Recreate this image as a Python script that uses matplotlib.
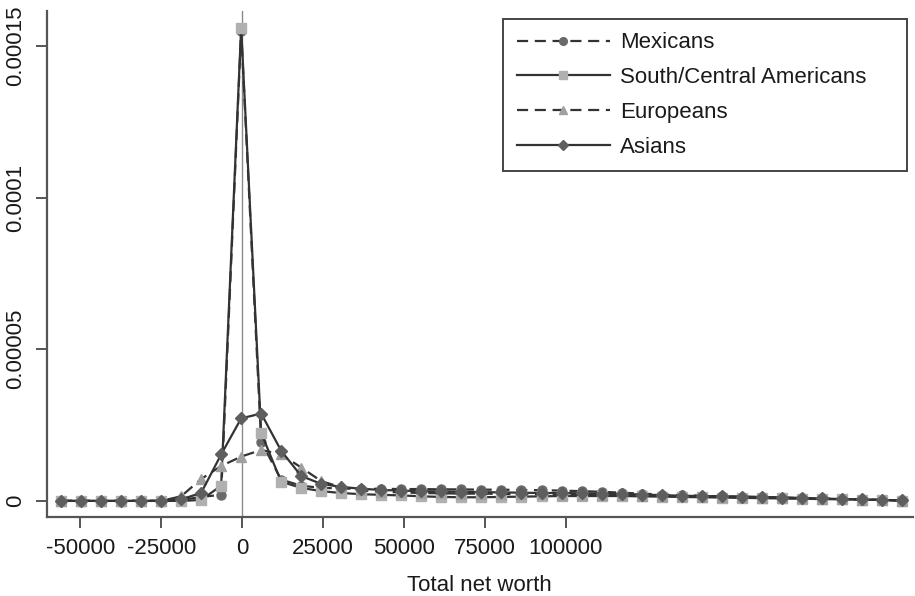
import matplotlib
matplotlib.use("Agg")
import matplotlib.pyplot as plt

plt.rcParams['font.family'] = ['Liberation Sans', 'DejaVu Sans']

# evaluation points of the density (total net worth)
net_worth = [-56000, -49810, -43619, -37429, -31238, -25048, -18857, -12667,
             -6476, -286, 5905, 12095, 18286, 24476, 30667, 36857, 43048,
             49238, 55429, 61619, 67810, 74000, 80190, 86381, 92571, 98762,
             104952, 111143, 117333, 123524, 129714, 135905, 142095, 148286,
             154476, 160667, 166857, 173048, 179238, 185429, 191619, 197810,
             204000]

# density values (x 1e-6)
mexicans = [0, 0, 0, 0, 0, 0, 0.3, 1.3, 2.0, 155, 19.5, 7.0, 5.0, 4.3, 4.1,
            4.0, 4.0, 3.9, 3.9, 3.8, 3.8, 3.7, 3.7, 3.6, 3.5, 3.4, 3.2, 3.0,
            2.7, 2.4, 2.1, 1.9, 1.7, 1.5, 1.4, 1.2, 1.1, 0.9, 0.8, 0.6, 0.5,
            0.3, 0.2]
south_central = [0, 0, 0, 0, 0, 0, 0, 0.3, 5.0, 156, 22.4, 6.3, 4.3, 3.2, 2.6,
                 2.2, 2.0, 1.8, 1.5, 1.3, 1.2, 1.2, 1.3, 1.4, 1.5, 1.6, 1.6,
                 1.6, 1.6, 1.5, 1.4, 1.3, 1.2, 1.1, 1.0, 0.9, 0.8, 0.7, 0.6,
                 0.5, 0.4, 0.3, 0.1]
europeans = [0, 0, 0, 0, 0, 0, 1.5, 7.2, 11.5, 14.6, 16.8, 15.3, 11.0, 6.5,
             4.5, 3.5, 3.0, 2.8, 2.6, 2.5, 2.4, 2.4, 2.3, 2.2, 2.2, 2.1, 2.0,
             1.9, 1.8, 1.7, 1.6, 1.5, 1.4, 1.3, 1.2, 1.1, 1.0, 0.8, 0.7, 0.6,
             0.4, 0.3, 0.1]
asians = [0, 0, 0, 0, 0, 0, 0.5, 2.6, 15.3, 27.2, 28.8, 16.5, 8.2, 5.6, 4.6,
          4.0, 3.6, 3.4, 3.2, 3.1, 3.0, 2.9, 2.8, 2.7, 2.6, 2.6, 2.5, 2.4,
          2.3, 2.1, 1.9, 1.7, 1.6, 1.5, 1.4, 1.3, 1.1, 1.0, 0.8, 0.6, 0.5,
          0.3, 0.2]

x_ticks = [-50000, -25000, 0, 25000, 50000, 75000, 100000]
y_ticks = [0, 0.00005, 0.0001, 0.00015]
y_tick_labels = ['0', '0.00005', '0.0001', '0.00015']

fig = plt.figure(figsize=(9.15, 5.96), dpi=100)
ax = fig.add_axes([0.0514, 0.1326, 0.946, 0.849])

ax.axvline(0, color='#8a8a8a', linewidth=1.0, zorder=1)

series = [
    (mexicans, 'Mexicans', 'o', '#6a6a6a', (0, (5, 3)), 6.5),
    (south_central, 'South/Central Americans', 's', '#b0b0b0', '-', 7),
    (europeans, 'Europeans', '^', '#a0a0a0', (0, (5, 3)), 7),
    (asians, 'Asians', 'D', '#5e5e5e', '-', 6),
]
for vals, name, mk, mcol, ls, ms in series:
    ax.plot(net_worth, [v * 1e-6 for v in vals], linestyle=ls, color='#333333',
            linewidth=1.6, marker=mk, markersize=ms, markerfacecolor=mcol,
            markeredgecolor=mcol, label=name, zorder=3)

ax.set_xlim(-60300, 207300)
ax.set_ylim(-5.3e-6, 1.615e-4)

ax.set_xticks(x_ticks)
ax.set_xticklabels([str(t) for t in x_ticks])
ax.set_yticks(y_ticks)
ax.set_yticklabels(y_tick_labels, rotation=90, va='center')

for side in ['top', 'right']:
    ax.spines[side].set_visible(False)
for side in ['left', 'bottom']:
    ax.spines[side].set_color('#555555')
    ax.spines[side].set_linewidth(1.6)

ax.tick_params(axis='both', length=8, width=1.4, color='#555555',
               labelsize=16, labelcolor='#1a1a1a', pad=7)

ax.set_xlabel('Total net worth', fontsize=16, color='#1a1a1a', labelpad=12)

leg = ax.legend(loc='upper left', bbox_to_anchor=(0.527, 0.5, 0.4665, 0.484),
                mode='expand', borderaxespad=0, fontsize=16, markerscale=0.85,
                handlelength=4.2, frameon=True, fancybox=False,
                borderpad=0.6, labelspacing=0.62, handletextpad=0.45)
leg.get_frame().set_edgecolor('#444444')
leg.get_frame().set_linewidth(1.4)
leg.get_frame().set_alpha(1)
for t in leg.get_texts():
    t.set_color('#1a1a1a')

fig.savefig('out.png', dpi=100)
